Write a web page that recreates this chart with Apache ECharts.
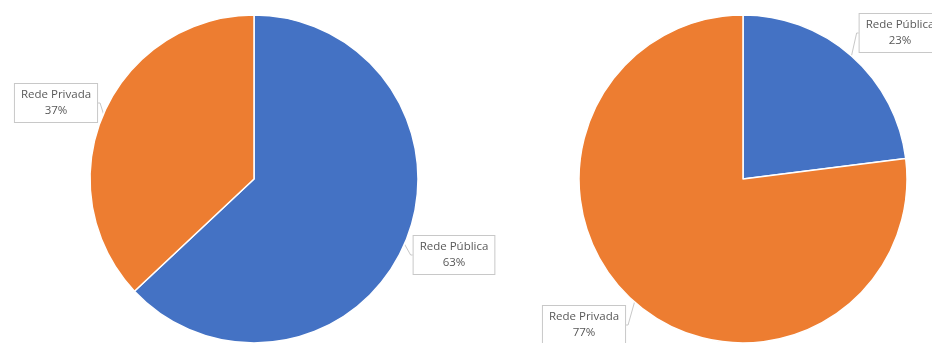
<!DOCTYPE html>
<html>
<head>
<meta charset="utf-8">
<script src="https://cdn.jsdelivr.net/npm/echarts@6/dist/echarts.min.js"></script>
<style>
  html, body { margin: 0; padding: 0; background: #ffffff; }
  #chart { width: 932px; height: 343px; }
</style>
</head>
<body>
<div id="chart"></div>
<script>
// Share of students by school network, two groups
const categories = ['Rede Pública', 'Rede Privada'];
const leftValues = [63, 37];
const rightValues = [23, 77];
const sliceColors = ['#4472C4', '#ED7D31'];

// Where each callout box sits (center), per series and slice
const leftLabelPos = [[454, 255], [56, 103]];
const rightLabelPos = [[900, 33], [584, 325]];

function buildData(values) {
  return categories.map((name, i) => ({
    name: name,
    value: values[i],
    itemStyle: { color: sliceColors[i] }
  }));
}

const labelStyle = {
  show: true,
  position: 'outside',
  formatter: p => p.name + '\n' + p.value + '%',
  fontFamily: '"Open Sans", "Liberation Sans", sans-serif',
  fontSize: 11.5,
  lineHeight: 16,
  color: '#595959',
  align: 'center',
  backgroundColor: '#ffffff',
  borderColor: '#c8c8c8',
  borderWidth: 1,
  padding: [3, 6, 3, 6]
};

function pieSeries(values, cx, labelPos) {
  return {
    type: 'pie',
    center: [cx, 179],
    radius: 164,
    startAngle: 90,
    clockwise: true,
    animation: false,
    avoidLabelOverlap: false,
    data: buildData(values),
    itemStyle: { borderColor: '#ffffff', borderWidth: 1.5 },
    label: labelStyle,
    labelLine: {
      show: true,
      length: 2,
      length2: 2,
      lineStyle: { color: '#c8c8c8', width: 1 }
    },
    labelLayout: function (params) {
      const pos = labelPos[params.dataIndex];
      return { x: pos[0], y: pos[1], align: 'center', verticalAlign: 'middle' };
    },
    emphasis: { disabled: true }
  };
}

const chart = echarts.init(document.getElementById('chart'));
chart.setOption({
  backgroundColor: '#ffffff',
  series: [
    pieSeries(leftValues, 254, leftLabelPos),
    pieSeries(rightValues, 743, rightLabelPos)
  ]
});
</script>
</body>
</html>
